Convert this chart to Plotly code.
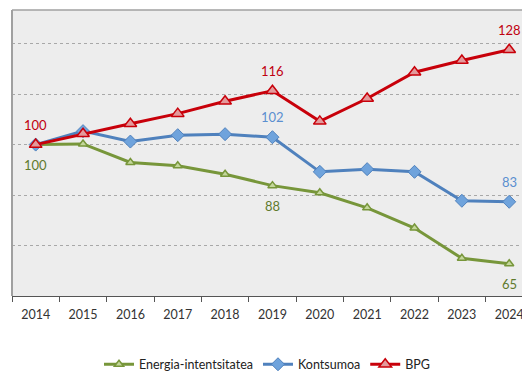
import plotly.graph_objects as go

years = ["2014", "2015", "2016", "2017", "2018", "2019", "2020", "2021", "2022", "2023", "2024"]
energia = [100, 100.2, 94.7, 93.7, 91.2, 87.8, 85.7, 81.2, 75.2, 66.2, 64.6]
kontsumoa = [100, 104.0, 100.9, 102.8, 103.1, 102.2, 91.9, 92.7, 91.9, 83.3, 83.0]
bpg = [100, 103.2, 106.2, 109.2, 112.9, 116.0, 106.9, 113.7, 121.5, 125.0, 128.2]

# which points carry a value label, and whether it sits above (+) or below (-)
energia_labels = {0: -1, 5: -1, 10: -1}
kontsumoa_labels = {5: 1, 10: 1}
bpg_labels = {0: 1, 5: 1, 10: 1}

FONT = "Lato"
GREEN, GREEN_TXT, GREEN_FILL = "#77963a", "#5f7a2c", "#c4d79b"
BLUE, BLUE_TXT, BLUE_FILL = "#4f81bd", "#5b8fd0", "#6fa3dc"
RED, RED_TXT, RED_FILL = "#c8000a", "#c00010", "#e39a9c"

fig = go.Figure()
fig.add_trace(go.Scatter(
    x=years, y=energia, name="Energia-intentsitatea", mode="lines+markers",
    line=dict(color=GREEN, width=3),
    marker=dict(symbol="triangle-up", size=8, color=GREEN_FILL, line=dict(color=GREEN, width=1.5)),
))
fig.add_trace(go.Scatter(
    x=years, y=kontsumoa, name="Kontsumoa", mode="lines+markers",
    line=dict(color=BLUE, width=3),
    marker=dict(symbol="diamond", size=10, color=BLUE_FILL, line=dict(color=BLUE, width=1)),
))
fig.add_trace(go.Scatter(
    x=years, y=bpg, name="BPG", mode="lines+markers",
    line=dict(color=RED, width=3),
    marker=dict(symbol="triangle-up", size=11, color=RED_FILL, line=dict(color=RED, width=1.5)),
))

# value labels; category positions are addressed by their index on the axis
for series, labels, color in [(energia, energia_labels, GREEN_TXT),
                              (kontsumoa, kontsumoa_labels, BLUE_TXT),
                              (bpg, bpg_labels, RED_TXT)]:
    for i, side in labels.items():
        fig.add_annotation(
            x=i, y=series[i], xref="x", yref="y", text=f"{round(series[i])}", showarrow=False,
            yshift=20 * side, font=dict(family=FONT, size=13, color=color),
        )

fig.update_layout(
    width=522, height=371,
    margin=dict(l=12, r=0, t=10, b=75, autoexpand=False),
    paper_bgcolor="white", plot_bgcolor="#ededed",
    font=dict(family=FONT, size=12, color="#333333"),
    showlegend=True,
    legend=dict(orientation="h", x=0.5, xanchor="center", y=-0.24, yanchor="middle",
                font=dict(family=FONT, size=12.5, color="#222222"),
                bgcolor="rgba(0,0,0,0)", itemwidth=30, tracegroupgap=0),
    xaxis=dict(type="category", range=[-0.5, 10.27], tickson="boundaries",
               ticks="outside", ticklen=5, tickcolor="#555555",
               showline=True, linecolor="#555555", linewidth=1,
               ticklabelstandoff=7,
               showgrid=False, tickfont=dict(family=FONT, size=12.5, color="#333333")),
    yaxis=dict(range=[55, 140], dtick=15, tick0=55, showticklabels=False,
               showgrid=True, gridcolor="#a8a8a8", griddash="dot", gridwidth=1,
               zeroline=False, showline=False),
    shapes=[
        dict(type="line", xref="paper", yref="paper", x0=0, x1=1, y0=1, y1=1,
             line=dict(color="#a0a0a0", width=1.5)),
        dict(type="line", xref="paper", yref="paper", x0=0, x1=0, y0=0, y1=1,
             line=dict(color="#a0a0a0", width=2)),
    ],
)

fig.write_html("out.html")
